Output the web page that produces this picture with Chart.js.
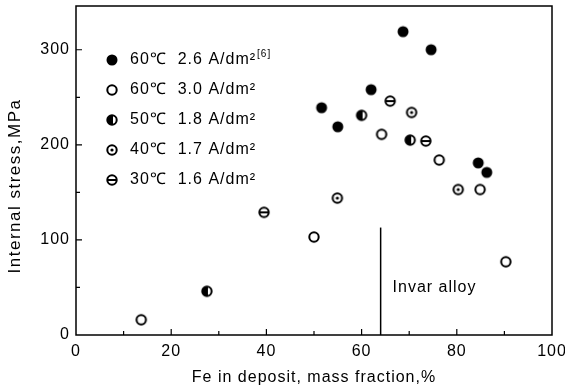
<!DOCTYPE html>
<html>
<head>
<meta charset="utf-8">
<script src="https://cdn.jsdelivr.net/npm/chart.js@4"></script>
<style>
  html, body { margin: 0; padding: 0; background: #fff; }
  #wrap { width: 565px; height: 387px; }
</style>
</head>
<body>
<div id="wrap"><canvas id="chart" width="565" height="387"></canvas></div>
<script>
// ===== Data =====
const xTicks = [0, 20, 40, 60, 80, 100];
const yTicks = [0, 100, 200, 300];

const s60a_x = [51.6, 55.0, 62.0, 68.7, 74.6, 84.5, 86.3];
const s60a_y = [239, 219, 258, 319, 300, 181, 171];

const s60b_x = [13.7, 50.0, 64.2, 76.3, 84.9, 90.3];
const s60b_y = [16, 103, 211, 184, 153, 77];

const s50_x = [27.5, 60.0, 70.2];
const s50_y = [46, 231, 205];

const s40_x = [54.9, 70.5, 80.3];
const s40_y = [144, 234, 153];

const s30_x = [39.5, 66.0, 73.5];
const s30_y = [129, 246, 204];

const invarX = 64;
const invarTop = 113;

const legendLabels = [
  "60\u2103  2.6 A/dm\u00b2",
  "60\u2103  3.0 A/dm\u00b2",
  "50\u2103  1.8 A/dm\u00b2",
  "40\u2103  1.7 A/dm\u00b2",
  "30\u2103  1.6 A/dm\u00b2"
];

const FONT = "'Liberation Sans', Arial, sans-serif";

// ===== Marker images =====
function marker(kind) {
  const c = document.createElement("canvas");
  c.width = 14; c.height = 14;
  const g = c.getContext("2d");
  g.strokeStyle = "#000";
  g.fillStyle = "#000";
  g.lineWidth = 2;
  g.beginPath();
  if (kind === "filled") {
    g.arc(7, 7, 5.5, 0, Math.PI * 2);
    g.fill();
    return c;
  }
  g.arc(7, 7, 4.7, 0, Math.PI * 2);
  g.stroke();
  if (kind === "theta") {
    g.beginPath(); g.moveTo(2.5, 7); g.lineTo(11.5, 7); g.stroke();
  } else if (kind === "phi") {
    g.beginPath(); g.arc(7, 7, 4.7, Math.PI / 2, Math.PI * 1.5); g.fill();
    g.beginPath(); g.moveTo(7, 2.5); g.lineTo(7, 11.5); g.stroke();
  } else if (kind === "dot") {
    g.beginPath(); g.arc(7, 7, 1.6, 0, Math.PI * 2); g.fill();
  }
  return c;
}

const styles = [marker("filled"), marker("open"), marker("phi"), marker("dot"), marker("theta")];

const pts = (xs, ys) => xs.map((x, i) => ({ x: x, y: ys[i] }));

// wider letter spacing, like the scanned lettering
const spacing = {
  id: "spacing",
  beforeDraw(chart) { chart.ctx.letterSpacing = "1px"; }
};

// ===== Frame, inward ticks, legend, y title and note =====
const decor = {
  id: "decor",
  afterDraw(chart) {
    const ctx = chart.ctx;
    const a = chart.chartArea;
    const xs = chart.scales.x, ys = chart.scales.y;
    ctx.save();
    ctx.strokeStyle = "#000";
    ctx.lineWidth = 1.5;
    ctx.strokeRect(a.left, a.top, a.right - a.left, a.bottom - a.top);

    ctx.lineWidth = 1.2;
    ctx.beginPath();
    for (let v = 10; v < 100; v += 10) {
      const px = xs.getPixelForValue(v);
      const len = v % 20 === 0 ? 6 : 4;
      ctx.moveTo(px, a.bottom); ctx.lineTo(px, a.bottom - len);
    }
    for (let v = 50; v <= 300; v += 50) {
      const py = ys.getPixelForValue(v);
      const len = v % 100 === 0 ? 6 : 4;
      ctx.moveTo(a.left, py); ctx.lineTo(a.left + len, py);
    }
    ctx.stroke();

    // legend
    ctx.letterSpacing = "1px";
    ctx.fillStyle = "#000";
    ctx.font = "16px " + FONT;
    ctx.textBaseline = "middle";
    ctx.textAlign = "left";
    legendLabels.forEach((t, i) => {
      const y = 60 + i * 30;
      ctx.drawImage(styles[i], 112 - 7, y - 7);
      ctx.fillText(t, 130, y);
      if (i === 0) {
        const w = ctx.measureText(t).width;
        ctx.font = "10px " + FONT;
        ctx.fillText("[6]", 130 + w + 1, y - 6);
        ctx.font = "16px " + FONT;
      }
    });

    // note
    ctx.fillText("Invar alloy", xs.getPixelForValue(66.5), ys.getPixelForValue(50));

    // y axis title, sits a little below the middle as in the scan
    ctx.save();
    ctx.translate(15, 186);
    ctx.rotate(-Math.PI / 2);
    ctx.textAlign = "center";
    ctx.font = "17px " + FONT;
    ctx.letterSpacing = "1.5px";
    ctx.fillText("Internal stress,MPa", 0, 0);
    ctx.restore();

    ctx.restore();
  }
};

new Chart(document.getElementById("chart"), {
  type: "scatter",
  data: {
    datasets: [
      { label: legendLabels[0], data: pts(s60a_x, s60a_y), pointStyle: styles[0] },
      { label: legendLabels[1], data: pts(s60b_x, s60b_y), pointStyle: styles[1] },
      { label: legendLabels[2], data: pts(s50_x, s50_y), pointStyle: styles[2] },
      { label: legendLabels[3], data: pts(s40_x, s40_y), pointStyle: styles[3] },
      { label: legendLabels[4], data: pts(s30_x, s30_y), pointStyle: styles[4] },
      {
        type: "line",
        label: "Invar alloy",
        data: [{ x: invarX, y: 0 }, { x: invarX, y: invarTop }],
        borderColor: "#000",
        borderWidth: 1.5,
        pointRadius: 0
      }
    ]
  },
  options: {
    responsive: false,
    animation: false,
    layout: { padding: { top: 6, right: 13, left: 0, bottom: 0 } },
    plugins: { legend: { display: false }, tooltip: { enabled: false } },
    scales: {
      x: {
        type: "linear",
        min: 0, max: 100,
        grid: { display: false, drawTicks: false },
        border: { display: false },
        afterBuildTicks: (s) => { s.ticks = xTicks.map(v => ({ value: v })); },
        afterFit: (s) => { s.height = 52; s.paddingLeft = 0; s.paddingRight = 0; },
        ticks: { color: "#000", padding: 7, font: { family: FONT, size: 16 } },
        title: {
          display: true,
          text: "Fe in deposit, mass fraction,%",
          color: "#000",
          padding: { top: 0, bottom: 0 },
          font: { family: FONT, size: 16 }
        }
      },
      y: {
        min: 0, max: 346,
        grid: { display: false, drawTicks: false },
        border: { display: false },
        afterBuildTicks: (s) => { s.ticks = yTicks.map(v => ({ value: v })); },
        afterFit: (s) => { s.width = 76; s.paddingTop = 0; s.paddingBottom = 0; },
        ticks: { color: "#000", padding: 6, font: { family: FONT, size: 16 } },
        title: { display: false }
      }
    }
  },
  plugins: [spacing, decor]
});
</script>
</body>
</html>
